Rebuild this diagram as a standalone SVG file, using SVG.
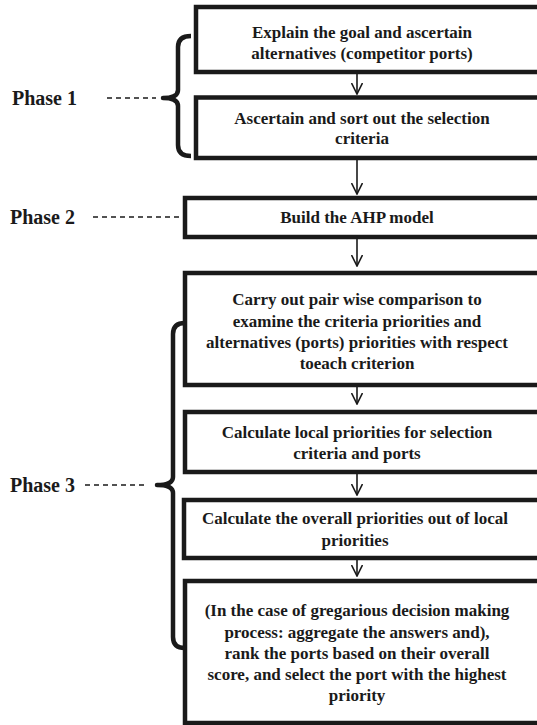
<svg xmlns="http://www.w3.org/2000/svg" width="537" height="725" viewBox="0 0 537 725">
<defs>
<marker id="ah" viewBox="0 0 12 12" refX="11" refY="6" markerWidth="12" markerHeight="12" markerUnits="userSpaceOnUse" orient="auto">
<path d="M0,0.5 L11,6 L0,11.5" fill="none" stroke="#1a1a1a" stroke-width="1.6"/>
</marker>
</defs>
<style>
.box{fill:#fff;stroke:#1a1a1a;stroke-width:4.5}
.t{font-family:"Liberation Serif","Times New Roman",serif;font-weight:bold;font-size:17px;fill:#1a1a1a;text-anchor:middle}
.ph{font-family:"Liberation Serif","Times New Roman",serif;font-weight:bold;font-size:20px;fill:#1a1a1a}
.dash{stroke:#1a1a1a;stroke-width:1.3;stroke-dasharray:5,4;fill:none}
.brace{fill:none;stroke:#1a1a1a;stroke-width:4.5;stroke-linejoin:round}
.arr{stroke:#1a1a1a;stroke-width:1.6;fill:none;marker-end:url(#ah)}
</style>
<rect width="537" height="725" fill="#fff"/>
<g id="connectors">
<line class="arr" x1="357" y1="74" x2="357" y2="94"/>
<line class="arr" x1="357" y1="160" x2="357" y2="194"/>
<line class="arr" x1="357" y1="239" x2="357" y2="266"/>
<line class="arr" x1="357" y1="387" x2="357" y2="404"/>
<line class="arr" x1="357" y1="474" x2="357" y2="495"/>
<line class="arr" x1="357" y1="560" x2="357" y2="576"/>
</g>
<g id="n1">
<rect class="box" x="196" y="7" width="360" height="65"/>
<text class="t" x="362" y="38">Explain the goal and ascertain</text>
<text class="t" x="362" y="59">alternatives (competitor ports)</text>
</g>
<g id="n2">
<rect class="box" x="196" y="97.5" width="360" height="60.5"/>
<text class="t" x="362" y="124">Ascertain and sort out the selection</text>
<text class="t" x="362" y="144">criteria</text>
</g>
<g id="n3">
<rect class="box" x="185" y="198" width="370" height="39"/>
<text class="t" x="357" y="223">Build the AHP model</text>
</g>
<g id="n4">
<rect class="box" x="185" y="273" width="370" height="112"/>
<text class="t" x="357" y="305">Carry out pair wise comparison to</text>
<text class="t" x="357" y="327">examine the criteria priorities and</text>
<text class="t" x="357" y="348">alternatives (ports) priorities with respect</text>
<text class="t" x="357" y="369">toeach criterion</text>
</g>
<g id="n5">
<rect class="box" x="185" y="412" width="370" height="60"/>
<text class="t" x="357" y="438">Calculate local priorities for selection</text>
<text class="t" x="357" y="459">criteria and ports</text>
</g>
<g id="n6">
<rect class="box" x="184" y="500" width="370" height="58"/>
<text class="t" x="355" y="524">Calculate the overall priorities out of local</text>
<text class="t" x="355" y="546">priorities</text>
</g>
<g id="n7">
<rect class="box" x="185" y="581" width="370" height="142"/>
<text class="t" x="357" y="616">(In the case of gregarious decision making</text>
<text class="t" x="357" y="638">process: aggregate the answers and),</text>
<text class="t" x="357" y="659">rank the ports based on their overall</text>
<text class="t" x="357" y="680">score, and select the port with the highest</text>
<text class="t" x="357" y="701">priority</text>
</g>
<g id="phase1">
<text class="ph" x="12" y="105">Phase 1</text>
<line class="dash" x1="107" y1="98" x2="156" y2="98"/>
<path class="brace" d="M191,36 Q178,36 178,47 L178,90 Q178,98 163,98 Q178,98 178,106 L178,145 Q178,156 191,156"/>
</g>
<g id="phase2">
<text class="ph" x="10" y="224">Phase 2</text>
<line class="dash" x1="93" y1="217" x2="182" y2="217"/>
</g>
<g id="phase3">
<text class="ph" x="10" y="492">Phase 3</text>
<line class="dash" x1="85" y1="485" x2="145" y2="485"/>
<path class="brace" d="M185,323 Q173,323 173,334 L173,477 Q173,485 157,485 Q173,485 173,493 L173,637 Q173,648 185,648"/>
</g>
</svg>
